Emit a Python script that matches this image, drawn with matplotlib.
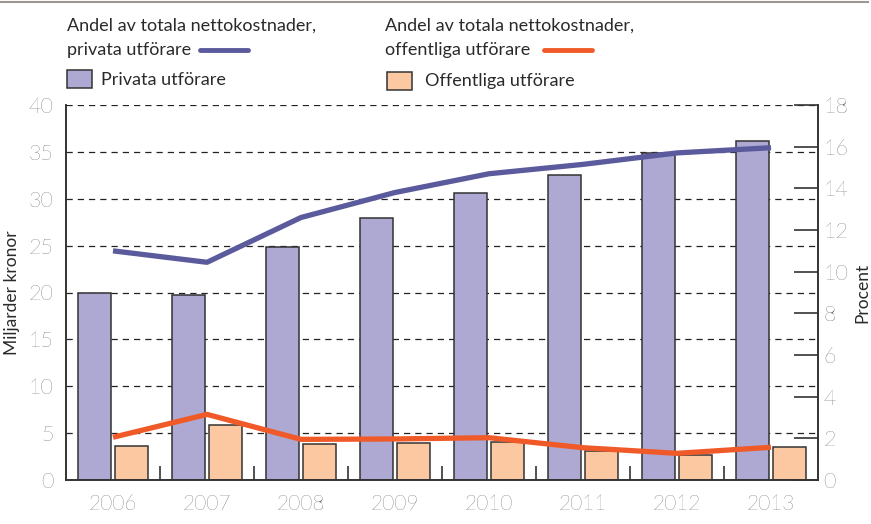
import matplotlib
matplotlib.use("Agg")
import matplotlib.pyplot as plt
from matplotlib.lines import Line2D
from matplotlib.patches import Rectangle
import numpy as np

plt.rcParams['font.family'] = ['Lato', 'DejaVu Sans']
plt.rcParams['font.weight'] = 'light'

years = ['2006', '2007', '2008', '2009', '2010', '2011', '2012', '2013']
privata_mdkr = [20.0, 19.7, 24.9, 27.9, 30.6, 32.5, 34.9, 36.2]
offentliga_mdkr = [3.66, 5.87, 3.8, 3.95, 4.1, 3.05, 2.7, 3.5]
andel_privata = [11.0, 10.45, 12.6, 13.8, 14.7, 15.15, 15.7, 15.95]
andel_offentliga = [2.05, 3.15, 1.95, 1.97, 2.03, 1.55, 1.28, 1.57]

C_PRIV = '#ADA9D3'
C_OFF = '#FCC8A2'
C_LPRIV = '#5B5A9C'
C_LOFF = '#F05A28'
TXT = '#2a2a2a'
TICK = '#2a2a2a'

fig = plt.figure(figsize=(8.71, 5.24), dpi=100)
ax = fig.add_axes([66/871, 44/524, (818-66)/871, (480-105)/524])
x = np.arange(len(years))
w = 0.36
ax.bar(x - 0.197, privata_mdkr, w, color=C_PRIV, edgecolor='#333333', linewidth=1.1, zorder=2)
ax.bar(x + 0.197, offentliga_mdkr, w, color=C_OFF, edgecolor='#333333', linewidth=1.1, zorder=2)
ax.set_xlim(-0.5, 7.5)
ax.set_ylim(0, 40)
ax.set_yticks(range(0, 41, 5))
ax.set_axisbelow(True)
ax.yaxis.grid(True, linestyle=(0, (5, 4)), color='#222222', linewidth=0.9)
ax.set_xticks(x)
ax.set_xticklabels(years)
ax.tick_params(axis='x', length=0, pad=10, labelsize=15, labelcolor=TICK)
ax.tick_params(axis='y', length=0, pad=9, labelsize=15.5, labelcolor=TICK)
ax.set_xticks(np.arange(0.5, 7.0, 1.0), minor=True)
ax.tick_params(axis='x', which='minor', direction='in', length=10, width=1.2, color='#333333')
ax.spines['top'].set_visible(False)
for s in ['left', 'right', 'bottom']:
    ax.spines[s].set_color('#333333')
    ax.spines[s].set_linewidth(1.2)
ax.set_ylabel('Miljarder kronor', fontsize=12.5, color=TXT, labelpad=6)

ax2 = ax.twinx()
ax2.plot(x, andel_privata, color=C_LPRIV, linewidth=3.8, solid_capstyle='butt', zorder=5)
ax2.plot(x, andel_offentliga, color=C_LOFF, linewidth=3.8, solid_capstyle='butt', zorder=5)
ax2.set_ylim(0, 18)
ax2.set_yticks(range(0, 19, 2))
ax2.tick_params(axis='y', direction='in', length=17, width=1.2, color='#333333', pad=4, labelsize=15.5, labelcolor=TICK)
ax2.spines['top'].set_visible(False)
for s in ['left', 'right', 'bottom']:
    ax2.spines[s].set_color('#333333')
    ax2.spines[s].set_linewidth(1.2)
ax2.set_ylabel('Procent', fontsize=12.5, color=TXT, labelpad=4)

# top border line
fig.add_artist(Line2D([0, 868/871], [1 - 2/524, 1 - 2/524], color='#9E9893', linewidth=1.5))

def fx(px):
    return px / 871
def fy(py):
    return 1 - py / 524

fs = 13
lw = 'normal'
fig.text(fx(67), fy(26), 'Andel av totala nettokostnader,', fontsize=fs, weight=lw, color=TXT, va='center', ha='left')
fig.text(fx(67), fy(50), 'privata utförare', fontsize=fs, weight=lw, color=TXT, va='center', ha='left')
fig.add_artist(Line2D([fx(200), fx(248)], [fy(50), fy(50)], color=C_LPRIV, linewidth=3.5, solid_capstyle='round'))
fig.text(fx(385), fy(26), 'Andel av totala nettokostnader,', fontsize=fs, weight=lw, color=TXT, va='center', ha='left')
fig.text(fx(385), fy(50), 'offentliga utförare', fontsize=fs, weight=lw, color=TXT, va='center', ha='left')
fig.add_artist(Line2D([fx(544), fx(592)], [fy(50), fy(50)], color=C_LOFF, linewidth=3.5, solid_capstyle='round'))

fig.add_artist(Rectangle((fx(67), fy(88)), fx(25), 18/524, facecolor=C_PRIV, edgecolor='#333333', linewidth=1.1))
fig.text(fx(101), fy(80), 'Privata utförare', fontsize=fs, weight=lw, color=TXT, va='center', ha='left')
fig.add_artist(Rectangle((fx(387), fy(90)), fx(25), 18/524, facecolor=C_OFF, edgecolor='#333333', linewidth=1.1))
fig.text(fx(425), fy(81), 'Offentliga utförare', fontsize=fs, weight=lw, color=TXT, va='center', ha='left')

fig.savefig('out.png', dpi=100)
